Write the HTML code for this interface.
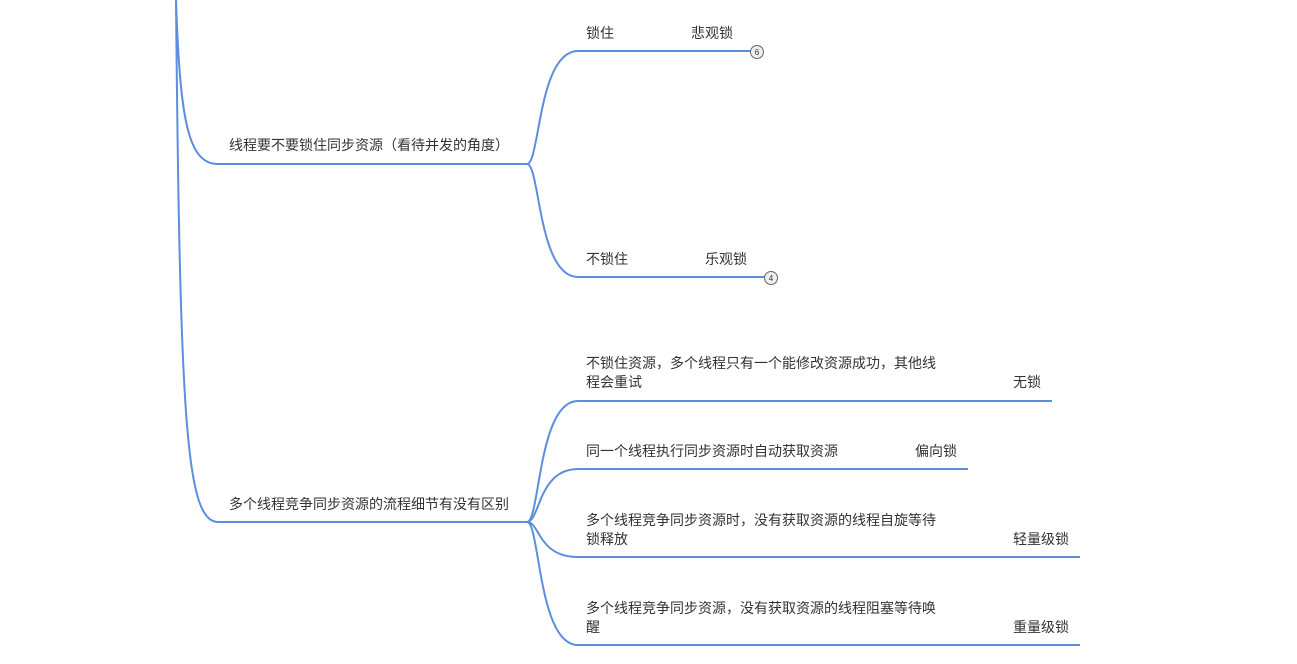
<!DOCTYPE html>
<html><head><meta charset="utf-8"><style>
body{margin:0;background:#fff;width:1297px;height:659px;overflow:hidden}
svg text{font-family:"Liberation Sans","Noto Sans CJK SC",sans-serif;font-size:14px;fill:#333}
</style></head><body>
<svg width="1297" height="659" xmlns="http://www.w3.org/2000/svg">
<g fill="none" stroke="#5b8fde" stroke-width="2">
<path d="M176,0 C180,120 188,164 218,164 L527,164"/>
<path d="M176,0 C180,420 186,522 218,522 L527,522"/>
<path d="M527,164 C540,164 538,51 578,51 L751,51"/>
<path d="M527,164 C540,164 538,277 578,277 L765,277"/>
<path d="M527,522 C540,522 538,401 578,401 L1052,401"/>
<path d="M527,522 C540,522 538,469 578,469 L968,469"/>
<path d="M527,522 C540,522 538,557 578,557 L1080,557"/>
<path d="M527,522 C540,522 538,645 578,645 L1080,645"/>
</g>
<circle cx="757" cy="52" r="6.5" fill="#eee" stroke="#666" stroke-width="1"/>
<text x="757" y="55" text-anchor="middle" style="font-size:8px">6</text>
<circle cx="771" cy="278" r="6.5" fill="#eee" stroke="#666" stroke-width="1"/>
<text x="771" y="281" text-anchor="middle" style="font-size:8px">4</text>
<text x="229" y="150">线程要不要锁住同步资源（看待并发的角度）</text>
<text x="229" y="509">多个线程竞争同步资源的流程细节有没有区别</text>
<text x="586" y="38">锁住</text>
<text x="691" y="38">悲观锁</text>
<text x="586" y="264">不锁住</text>
<text x="705" y="264">乐观锁</text>
<text x="586" y="368">不锁住资源，多个线程只有一个能修改资源成功，其他线</text>
<text x="586" y="387">程会重试</text>
<text x="1013" y="387">无锁</text>
<text x="586" y="456">同一个线程执行同步资源时自动获取资源</text>
<text x="915" y="456">偏向锁</text>
<text x="586" y="525">多个线程竞争同步资源时，没有获取资源的线程自旋等待</text>
<text x="586" y="544">锁释放</text>
<text x="1013" y="544">轻量级锁</text>
<text x="586" y="613">多个线程竞争同步资源，没有获取资源的线程阻塞等待唤</text>
<text x="586" y="632">醒</text>
<text x="1013" y="632">重量级锁</text>
</svg>
</body></html>
